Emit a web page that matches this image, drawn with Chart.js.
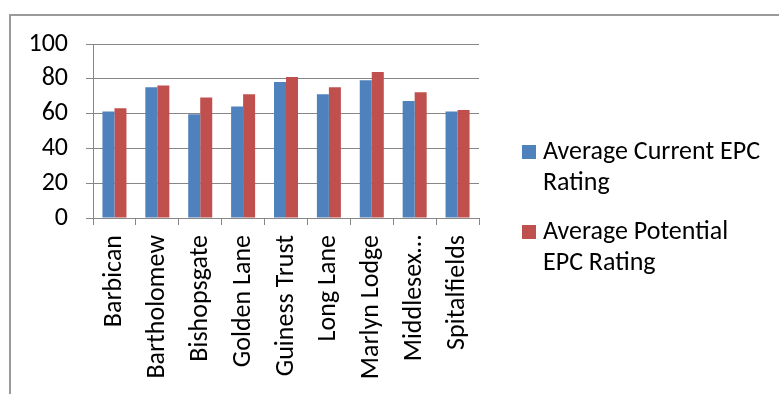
<!DOCTYPE html>
<html>
<head>
<meta charset="utf-8">
<script src="https://cdn.jsdelivr.net/npm/chart.js@4/dist/chart.umd.min.js"></script>
<style>
  html, body { margin: 0; padding: 0; background: #fff; }
  #wrap { position: relative; width: 779px; height: 394px; }
</style>
</head>
<body>
<div id="wrap"><canvas id="chart" width="779" height="394"></canvas></div>
<script>
// EPC ratings by estate
const categories = ['Barbican', 'Bartholomew', 'Bishopsgate', 'Golden Lane', 'Guiness Trust', 'Long Lane', 'Marlyn Lodge', 'Middlesex…', 'Spitalfields'];
const currentRating = [61.2, 75.1, 59.6, 64.1, 78.2, 71.1, 79.2, 67.3, 61.2];
const potentialRating = [63.1, 76.1, 69.2, 71.1, 81.1, 75.1, 83.9, 72.3, 62.1];
const seriesNames = ['Average Current EPC Rating', 'Average Potential EPC Rating'];
const yTicks = [0, 20, 40, 60, 80, 100];

const FONT = 'Carlito, Calibri, Lato, sans-serif';
const FONT_SIZE = 26;
const GRID = '#878787';

// Outer frame around the chart object
const framePlugin = {
  id: 'frame',
  beforeDraw(chart) {
    const ctx = chart.ctx;
    ctx.save();
    ctx.strokeStyle = '#9a9a9a';
    ctx.lineWidth = 2;
    ctx.beginPath();
    ctx.moveTo(10, 394);
    ctx.lineTo(10, 15);
    ctx.lineTo(779, 15);
    ctx.stroke();
    ctx.restore();
  }
};

// Legend on the right, with wrapped labels
const wrapLegendPlugin = {
  id: 'wrapLegend',
  afterDraw(chart) {
    const ctx = chart.ctx;
    const x0 = 522, textX = 543, maxW = 228, lineH = 31;
    let y = 152;
    ctx.save();
    ctx.font = FONT_SIZE + 'px ' + FONT;
    ctx.textBaseline = 'middle';
    ctx.textAlign = 'left';
    chart.data.datasets.forEach(ds => {
      const words = ds.label.split(' ');
      const lines = [];
      let cur = '';
      words.forEach(w => {
        const t = cur ? cur + ' ' + w : w;
        if (ctx.measureText(t).width > maxW && cur) { lines.push(cur); cur = w; }
        else cur = t;
      });
      if (cur) lines.push(cur);
      ctx.fillStyle = ds.backgroundColor;
      ctx.fillRect(x0, y - 7, 14, 14);
      ctx.fillStyle = '#000';
      lines.forEach((ln, i) => ctx.fillText(ln, textX, y + i * lineH));
      y += 80;
    });
    ctx.restore();
  }
};

new Chart(document.getElementById('chart'), {
  type: 'bar',
  data: {
    labels: categories,
    datasets: [
      { label: seriesNames[0], data: currentRating, backgroundColor: '#4F81BD' },
      { label: seriesNames[1], data: potentialRating, backgroundColor: '#C0504D' }
    ]
  },
  options: {
    responsive: false,
    animation: false,
    devicePixelRatio: 1,
    layout: { padding: { left: 0, right: 300, top: 44, bottom: 0 } },
    categoryPercentage: 0.56,
    barPercentage: 1.0,
    plugins: { legend: { display: false }, tooltip: { enabled: false } },
    scales: {
      x: {
        afterFit(scale) { scale.height = 176; },
        grid: { offset: true, drawOnChartArea: false, drawTicks: true, tickLength: 7, color: GRID, lineWidth: 1 },
        border: { display: true, color: GRID, width: 1 },
        ticks: {
          color: '#000', font: { family: FONT, size: FONT_SIZE },
          minRotation: 90, maxRotation: 90, padding: 10, autoSkip: false
        }
      },
      y: {
        min: 0, max: 100,
        afterFit(scale) { scale.width = 93; },
        afterBuildTicks(scale) { scale.ticks = yTicks.map(v => ({ value: v })); },
        grid: { color: GRID, lineWidth: 1, tickLength: 7 },
        border: { display: true, color: GRID, width: 1 },
        ticks: { color: '#000', font: { family: FONT, size: FONT_SIZE }, padding: 18 }
      }
    }
  },
  plugins: [framePlugin, wrapLegendPlugin]
});
</script>
</body>
</html>
